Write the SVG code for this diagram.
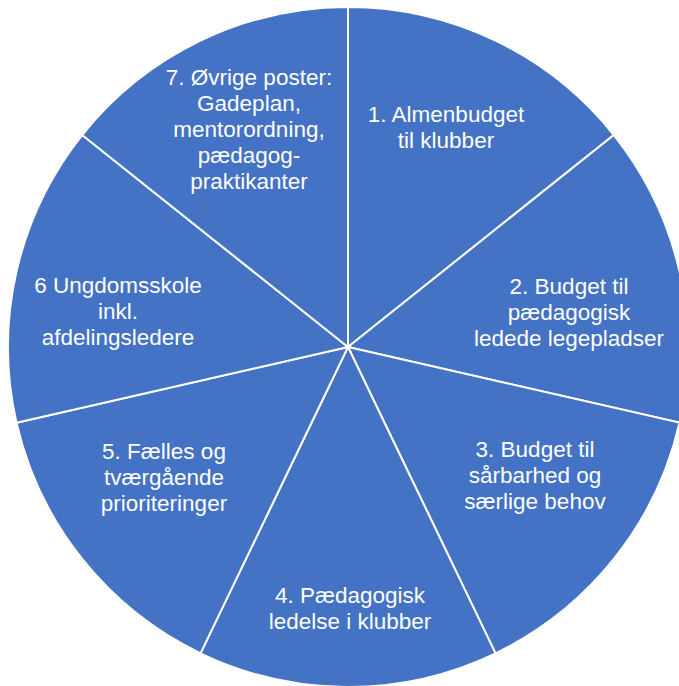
<svg xmlns="http://www.w3.org/2000/svg" width="679" height="686" viewBox="0 0 679 686">
<style>
.slice{fill:#4472C4;stroke:#FFFFFF;stroke-width:2;stroke-linejoin:round}
.lbl{font-family:"Liberation Sans",Arial,sans-serif;font-size:22.5px;fill:#FFFFFF;text-anchor:middle}
</style>
<rect width="679" height="686" fill="#FFFFFF"/>
<g id="slice1">
<path class="slice" d="M348,347 L348,7 A340,340 0 0 1 613.82,135.01 Z"/>
<text class="lbl"><tspan x="446" y="122">1. Almenbudget</tspan><tspan x="446" y="148">til klubber</tspan></text>
</g>
<g id="slice2">
<path class="slice" d="M348,347 L613.82,135.01 A340,340 0 0 1 679.48,422.66 Z"/>
<text class="lbl"><tspan x="569" y="294">2. Budget til</tspan><tspan x="569" y="320">pædagogisk</tspan><tspan x="569" y="346">ledede legepladser</tspan></text>
</g>
<g id="slice3">
<path class="slice" d="M348,347 L679.48,422.66 A340,340 0 0 1 495.52,653.33 Z"/>
<text class="lbl"><tspan x="535" y="457">3. Budget til</tspan><tspan x="535" y="483">sårbarhed og</tspan><tspan x="535" y="509">særlige behov</tspan></text>
</g>
<g id="slice4">
<path class="slice" d="M348,347 L495.52,653.33 A340,340 0 0 1 200.48,653.33 Z"/>
<text class="lbl"><tspan x="350" y="603">4. Pædagogisk</tspan><tspan x="350" y="629">ledelse i klubber</tspan></text>
</g>
<g id="slice5">
<path class="slice" d="M348,347 L200.48,653.33 A340,340 0 0 1 16.52,422.66 Z"/>
<text class="lbl"><tspan x="164" y="459">5. Fælles og</tspan><tspan x="164" y="485">tværgående</tspan><tspan x="164" y="511">prioriteringer</tspan></text>
</g>
<g id="slice6">
<path class="slice" d="M348,347 L16.52,422.66 A340,340 0 0 1 82.18,135.01 Z"/>
<text class="lbl"><tspan x="118" y="293">6 Ungdomsskole</tspan><tspan x="118" y="319">inkl.</tspan><tspan x="118" y="345">afdelingsledere</tspan></text>
</g>
<g id="slice7">
<path class="slice" d="M348,347 L82.18,135.01 A340,340 0 0 1 348,7 Z"/>
<text class="lbl"><tspan x="249" y="85">7. Øvrige poster:</tspan><tspan x="249" y="111">Gadeplan,</tspan><tspan x="249" y="137">mentorordning,</tspan><tspan x="249" y="163">pædagog-</tspan><tspan x="249" y="189">praktikanter</tspan></text>
</g>
<g id="connectors"/>
</svg>
